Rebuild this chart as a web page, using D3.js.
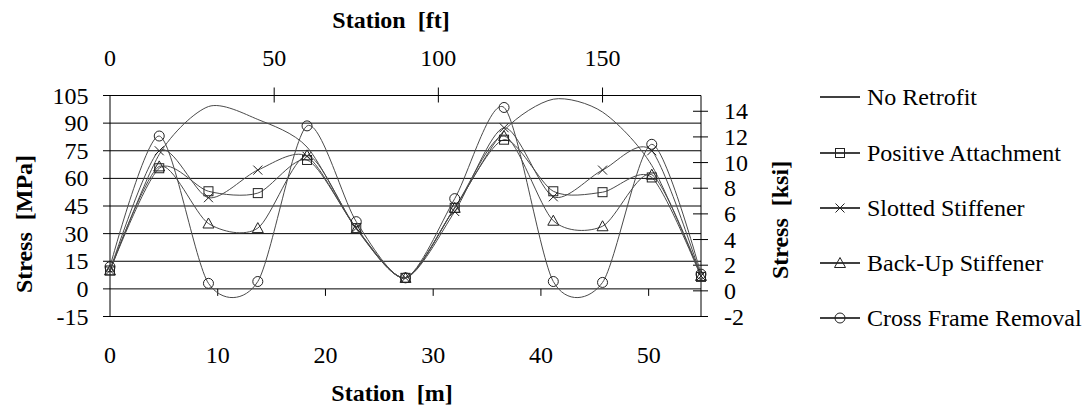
<!DOCTYPE html>
<html><head><meta charset="utf-8">
<script src="https://cdn.jsdelivr.net/npm/d3@7"></script>
<style>
body{margin:0;background:#fff;font-family:"Liberation Serif",serif;}
svg text{font-family:"Liberation Serif",serif !important;}
</style></head>
<body><svg id="c" width="1085" height="408" style="font-family:'Liberation Serif',serif"></svg>
<script>
// ---- data ----
const stations = [0, 4.57, 9.14, 13.72, 18.29, 22.86, 27.43, 32.00, 36.58, 41.15, 45.72, 50.29, 54.86]; // m
const noRetrofit         = [10, 73, 99, 92, 77, 33, 6, 44, 86, 103, 96, 67, 7];
const positiveAttachment = [10, 65.5, 53, 52, 70, 33, 6, 44, 81, 53, 52.5, 60.5, 6.5];
const slottedStiffener   = [10, 75, 49.5, 64.5, 72, 33, 6, 42, 87.5, 50, 64.5, 75, 7];
const backUpStiffener    = [10, 66.5, 35.5, 33, 72.5, 32.5, 6, 44, 83, 37, 34, 62, 7];
const crossFrameRemoval  = [12, 83, 3, 4, 88.5, 36.5, 6, 49, 98.5, 4, 3.5, 78.5, 8];
const seriesNames = ["No Retrofit", "Positive Attachment", "Slotted Stiffener", "Back-Up Stiffener", "Cross Frame Removal"];
const seriesMarkers = ["none", "square", "cross", "triangle", "circle"];
const mTicks = [0, 10, 20, 30, 40, 50];
const ftTicks = [0, 50, 100, 150];
const mpaTicks = [-15, 0, 15, 30, 45, 60, 75, 90, 105];
const ksiTicks = [-2, 0, 2, 4, 6, 8, 10, 12, 14];

const seriesValues = [noRetrofit, positiveAttachment, slottedStiffener, backUpStiffener, crossFrameRemoval];

const svg = d3.select("#c");
const FONT = "Liberation Serif";
const L = 110, R = 701, T = 95.5, B = 316.5;
const x = d3.scaleLinear().domain([0, 54.86]).range([L, R]);
const xft = d3.scaleLinear().domain([0, 54.86 / 0.3048]).range([L, R]);
const y = d3.scaleLinear().domain([-15, 105]).range([B, T]);
const yk = d3.scaleLinear().domain([-2, 105 / 6.894757]).range([B, T]);

const fs = 24;
function addText(parent, xx, yy, str, opts = {}) {
  const t = parent.append("text").attr("x", xx).attr("y", yy)
    .attr("font-family", FONT).attr("font-size", opts.size || fs).text(str);
  if (opts.anchor) t.attr("text-anchor", opts.anchor);
  if (opts.bold) t.attr("font-weight", "bold");
  if (opts.transform) t.attr("transform", opts.transform);
  return t;
}
// gridlines
svg.append("g").selectAll("line").data(mpaTicks).join("line")
  .attr("x1", L - 7).attr("x2", R).attr("y1", d => y(d)).attr("y2", d => y(d))
  .attr("stroke", "#000").attr("stroke-width", 1);
// left axis
svg.append("line").attr("x1", L).attr("x2", L).attr("y1", T).attr("y2", B).attr("stroke", "#000");
mpaTicks.forEach(d => addText(svg, 88.5, y(d) + 8, d, { anchor: "end" }));
// right axis
svg.append("line").attr("x1", R).attr("x2", R).attr("y1", T).attr("y2", B).attr("stroke", "#000");
svg.append("g").selectAll("line").data(ksiTicks).join("line")
  .attr("x1", R - 8).attr("x2", R + 7).attr("y1", d => yk(d)).attr("y2", d => yk(d)).attr("stroke", "#000");
ksiTicks.forEach(d => addText(svg, 724, yk(d) + 8, d));
// bottom (m) axis ticks on zero line
svg.append("g").selectAll("line").data(mTicks.filter(d => d > 0)).join("line")
  .attr("x1", d => x(d)).attr("x2", d => x(d)).attr("y1", y(0)).attr("y2", y(0) + 7).attr("stroke", "#000");
mTicks.forEach(d => addText(svg, x(d), 363, d, { anchor: "middle" }));
// top (ft) axis
svg.append("g").selectAll("line").data(ftTicks.filter(d => d > 0)).join("line")
  .attr("x1", d => xft(d)).attr("x2", d => xft(d)).attr("y1", T - 8).attr("y2", T + 7).attr("stroke", "#000");
ftTicks.forEach(d => addText(svg, xft(d), 66, d, { anchor: "middle" }));

// titles
addText(svg, 391, 28, "Station\u00a0\u00a0[ft]", { anchor: "middle", bold: true });
addText(svg, 392, 401, "Station\u00a0\u00a0[m]", { anchor: "middle", bold: true });
addText(svg, 0, 0, "Stress\u00a0\u00a0[MPa]", { anchor: "middle", bold: true, transform: "translate(32,224) rotate(-90)" });
addText(svg, 0, 0, "Stress\u00a0\u00a0[ksi]", { anchor: "middle", bold: true, transform: "translate(788,220) rotate(-90)" });

// series
const line = d3.line().x((d, i) => x(stations[i])).y(d => y(d)).curve(d3.curveCardinal.tension(0.2));
const lineColor = "#4a4a4a";
function marker(g, type, cx, cy, color) {
  const s = 4.5;
  if (type === "square") g.append("rect").attr("x", cx - s).attr("y", cy - s).attr("width", 2 * s).attr("height", 2 * s).attr("fill", "none").attr("stroke", color);
  else if (type === "circle") g.append("circle").attr("cx", cx).attr("cy", cy).attr("r", s + 0.5).attr("fill", "none").attr("stroke", color);
  else if (type === "triangle") g.append("path").attr("d", `M${cx},${cy - s - 1}L${cx + s + 1},${cy + s}L${cx - s - 1},${cy + s}Z`).attr("fill", "none").attr("stroke", color);
  else if (type === "cross") g.append("path").attr("d", `M${cx - s},${cy - s}L${cx + s},${cy + s}M${cx - s},${cy + s}L${cx + s},${cy - s}`).attr("fill", "none").attr("stroke", color);
}
seriesValues.forEach((vals, k) => {
  const g = svg.append("g");
  g.append("path").attr("d", line(vals)).attr("fill", "none").attr("stroke", lineColor).attr("stroke-width", 1);
  vals.forEach((v, i) => marker(g, seriesMarkers[k], x(stations[i]), y(v), "#222"));
});

// legend
const legY = [97, 153, 208, 263, 318];
seriesNames.forEach((name, k) => {
  svg.append("line").attr("x1", 820).attr("x2", 860).attr("y1", legY[k]).attr("y2", legY[k]).attr("stroke", "#000").attr("stroke-width", 1.5);
  marker(svg.append("g"), seriesMarkers[k], 840, legY[k], "#222");
  addText(svg, 867, legY[k] + 8, name);
});
</script></body></html>
